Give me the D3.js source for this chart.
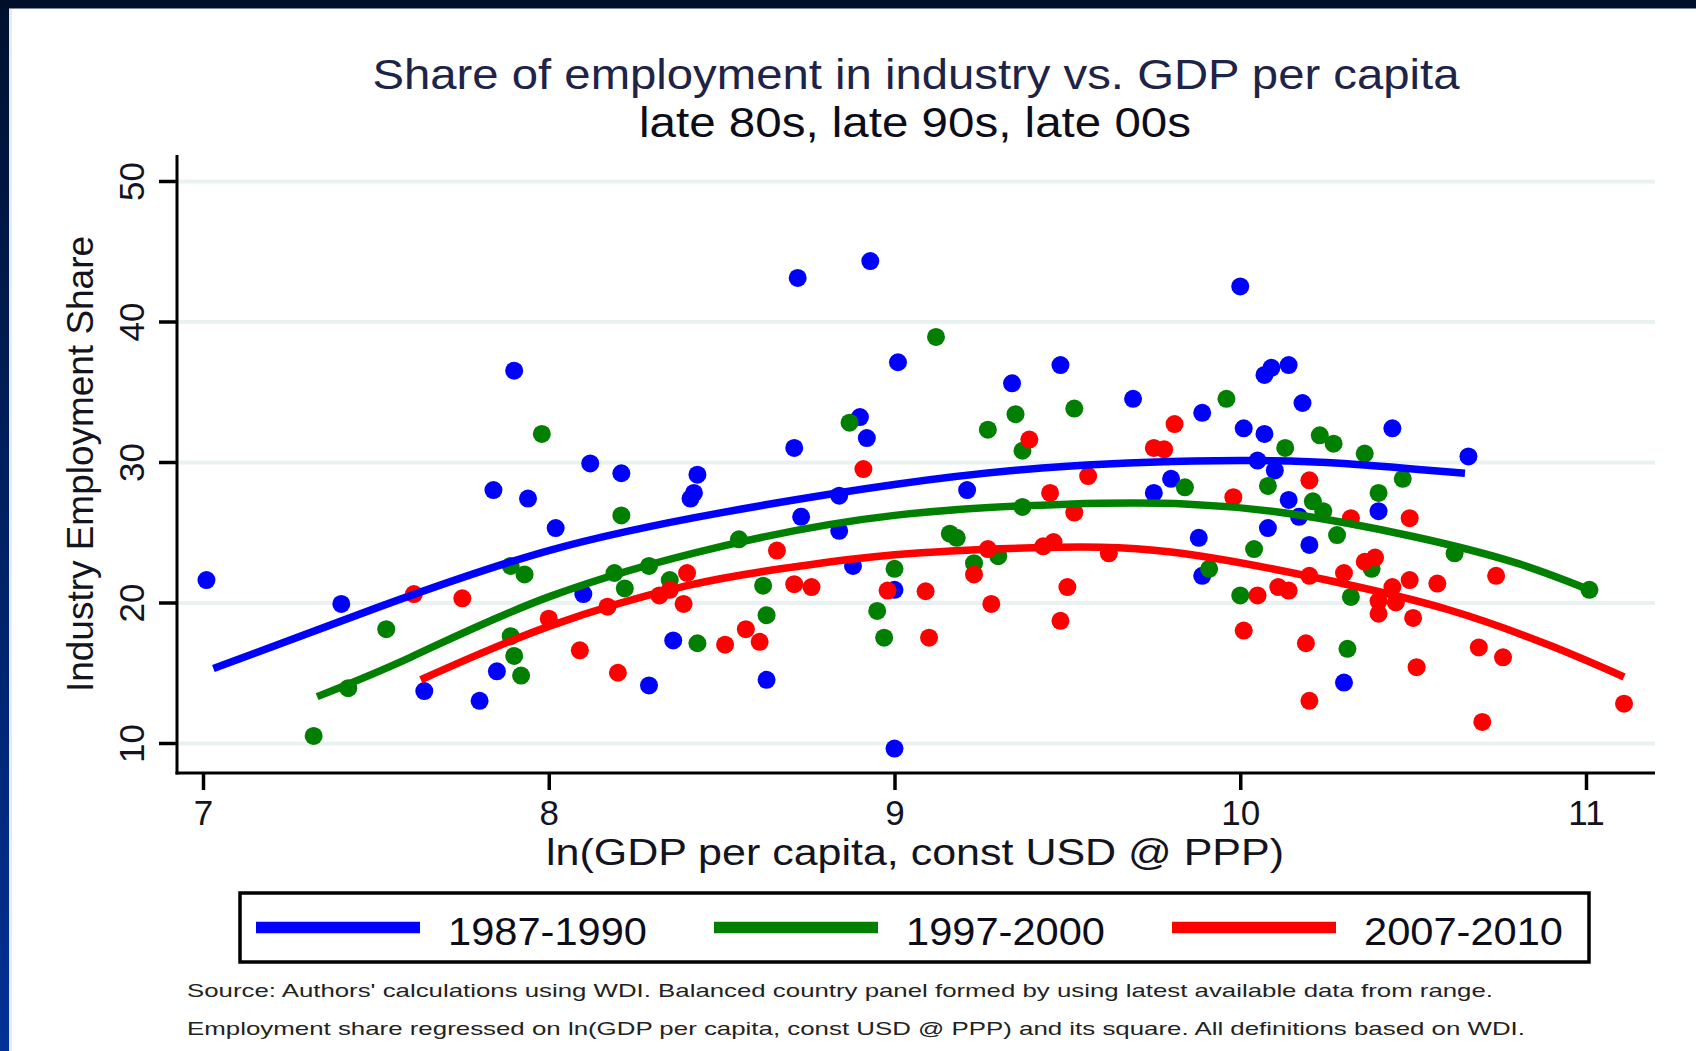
<!DOCTYPE html>
<html>
<head>
<meta charset="utf-8">
<script src="https://cdnjs.cloudflare.com/ajax/libs/d3/7.8.5/d3.min.js"></script>
<style>
  html, body { margin: 0; padding: 0; background: #fff; }
  svg { display: block; }
  text { font-family: "Liberation Sans", Arial, sans-serif; }
</style>
</head>
<body>
<div id="chart"></div>
<script>
// tick labels and series names
var xTicks = [7, 8, 9, 10, 11];
var yTicks = [10, 20, 30, 40, 50];
var periods = ["1987-1990", "1997-2000", "2007-2010"];
var colors = ["#0000ff", "#007f00", "#ff0000"];

// country points: [ln GDP per capita, industry employment share]
var pts8790 = [
    [7.01, 21.6], [7.40, 19.9], [7.64, 13.7], [7.80, 13.0], [7.85, 15.1], [7.84, 28.0], [7.90, 36.5],
    [7.94, 27.4], [8.02, 25.3], [8.10, 20.6], [8.12, 29.9], [8.21, 29.2], [8.29, 14.1], [8.36, 17.3],
    [8.41, 27.4], [8.42, 27.8], [8.43, 29.1], [8.63, 14.5], [8.71, 31.0], [8.72, 43.1], [8.73, 26.1],
    [8.84, 27.6], [8.84, 25.1], [8.88, 22.6], [8.90, 33.2], [8.92, 31.7], [8.93, 44.3], [9.00, 20.9],
    [9.00, 9.6], [9.01, 37.1], [9.21, 28.0], [9.34, 35.6], [9.48, 36.9], [9.69, 34.5], [9.75, 27.8],
    [9.80, 28.8], [9.88, 24.6], [9.89, 33.5], [9.89, 21.9], [10.00, 42.5], [10.01, 32.4], [10.05, 30.1],
    [10.07, 32.0], [10.07, 36.2], [10.09, 36.7], [10.08, 25.3], [10.10, 29.4], [10.14, 36.9], [10.14, 27.3],
    [10.17, 26.1], [10.18, 34.2], [10.20, 24.1], [10.30, 14.3], [10.40, 26.5], [10.44, 32.4], [10.66, 30.4]
];
var pts9700 = [
    [7.32, 10.5], [7.42, 13.9], [7.53, 18.1], [7.89, 17.6], [7.90, 16.2], [7.92, 14.8], [7.89, 22.6],
    [7.93, 22.0], [7.98, 32.0], [8.19, 22.1], [8.21, 26.2], [8.22, 21.0], [8.29, 22.6], [8.35, 21.6],
    [8.43, 17.1], [8.55, 24.5], [8.62, 21.2], [8.63, 19.1], [8.87, 32.8], [8.95, 19.4], [8.97, 17.5],
    [9.00, 22.4], [9.12, 38.9], [9.16, 24.9], [9.18, 24.6], [9.23, 22.8], [9.27, 32.3], [9.30, 23.3],
    [9.35, 33.4], [9.37, 30.8], [9.37, 26.8], [9.52, 33.8], [9.84, 28.2], [9.91, 22.4], [9.96, 34.5],
    [10.00, 20.5], [10.04, 23.8], [10.08, 28.3], [10.13, 31.0], [10.21, 27.2], [10.23, 31.9], [10.24, 26.5],
    [10.27, 31.3], [10.28, 24.8], [10.31, 16.7], [10.32, 20.4], [10.36, 30.6], [10.38, 22.4], [10.40, 27.8],
    [10.47, 28.8], [10.62, 23.5], [11.01, 20.9]
];
var pts0710 = [
    [7.61, 20.6], [7.75, 20.3], [8.00, 18.85], [8.09, 16.6], [8.17, 19.7], [8.20, 15.0], [8.32, 20.5],
    [8.35, 20.9], [8.39, 19.9], [8.40, 22.1], [8.51, 17.0], [8.57, 18.1], [8.61, 17.2], [8.66, 23.7],
    [8.71, 21.3], [8.76, 21.1], [8.91, 29.5], [8.98, 20.85], [9.09, 20.8], [9.10, 17.5], [9.23, 22.0],
    [9.27, 23.8], [9.28, 19.9], [9.39, 31.6], [9.43, 24.0], [9.45, 27.8], [9.46, 24.3], [9.48, 18.7],
    [9.50, 21.1], [9.52, 26.4], [9.56, 29.0], [9.62, 23.5], [9.75, 31.0], [9.78, 30.9], [9.81, 32.7],
    [9.98, 27.5], [10.01, 18.0], [10.05, 20.5], [10.11, 21.1], [10.14, 20.85], [10.19, 17.1], [10.20, 28.7],
    [10.20, 21.9], [10.20, 13.0], [10.30, 22.1], [10.32, 26.0], [10.36, 22.9], [10.39, 23.2], [10.40, 20.1],
    [10.40, 19.2], [10.44, 21.1], [10.45, 20.0], [10.49, 26.0], [10.49, 21.6], [10.50, 18.9], [10.51, 15.4],
    [10.57, 21.35], [10.69, 16.8], [10.70, 11.5], [10.74, 21.9], [10.76, 16.1], [11.11, 12.8]
];

// fitted curves
var fit8790 = [[7.03, 15.3], [7.5, 19.6], [8.0, 23.7], [8.5, 26.4], [9.0, 28.4], [9.5, 29.7], [10.0, 30.1], [10.3, 29.9], [10.65, 29.2]];
var fit9700 = [[7.33, 13.3], [7.6, 16.1], [8.0, 20.4], [8.5, 24.0], [9.0, 26.2], [9.5, 27.0], [9.85, 27.0], [10.15, 26.3], [10.5, 24.7], [10.8, 22.8], [11.02, 20.8]];
var fit0710 = [[7.63, 14.5], [8.0, 18.3], [8.4, 21.2], [8.7, 22.5], [9.0, 23.4], [9.4, 23.9], [9.8, 23.6], [10.25, 21.6], [10.6, 19.5], [10.9, 16.9], [11.11, 14.7]];

var W = 1696, H = 1051;
var plotLeft = 177, plotRight = 1655, plotTop = 155, plotBottom = 773;

var svg = d3.select("#chart").append("svg")
    .attr("width", W)
    .attr("height", H);

/**
 * window frame: dark top strip, gradient strip on the left
 */
var grad = svg.append("defs").append("linearGradient")
    .attr("id", "edge")
    .attr("x1", 0).attr("y1", 0).attr("x2", 0).attr("y2", 1);
grad.append("stop").attr("offset", "0%").attr("stop-color", "#00112f");
grad.append("stop").attr("offset", "100%").attr("stop-color", "#003196");

svg.append("rect").attr("x", 0).attr("y", 0).attr("width", 9).attr("height", H).attr("fill", "url(#edge)");
svg.append("rect").attr("x", 9).attr("y", 8).attr("width", 3).attr("height", H).attr("fill", "#e4edf2");
svg.append("rect").attr("x", 0).attr("y", 0).attr("width", W).attr("height", 8).attr("fill", "#000f2a");
svg.append("rect").attr("x", 9).attr("y", 8).attr("width", W).attr("height", 1).attr("fill", "#7d8a99");

var x = d3.scaleLinear().domain([7, 11]).range([203, 1586]);
var y = d3.scaleLinear().domain([10, 50]).range([743, 181]);

// grid
var grid = svg.append("g")
    .attr("transform", "translate(" + plotLeft + ",0)")
    .call(d3.axisLeft(y).tickValues(yTicks).tickSize(-(plotRight - plotLeft)).tickFormat(""));
grid.select(".domain").remove();
grid.selectAll("line").attr("stroke", "#e9f1f1").attr("stroke-width", 4);

// y axis
var yAxis = svg.append("g")
    .attr("transform", "translate(" + plotLeft + ",0)")
    .call(d3.axisLeft(y).tickValues(yTicks).tickSize(18).tickSizeOuter(0).tickFormat(d3.format("d")));
yAxis.select(".domain").remove();
yAxis.selectAll(".tick line").attr("stroke", "#000").attr("stroke-width", 3.5);
yAxis.selectAll(".tick text")
    .attr("x", 0)
    .attr("dy", null)
    .attr("transform", "translate(-33,0) rotate(-90)")
    .attr("text-anchor", "middle")
    .attr("fill", "#141420")
    .style("font-size", "35px");

// x axis
var xAxis = svg.append("g")
    .attr("transform", "translate(0," + plotBottom + ")")
    .call(d3.axisBottom(x).tickValues(xTicks).tickSize(17).tickSizeOuter(0).tickFormat(d3.format("d")));
xAxis.select(".domain").remove();
xAxis.selectAll(".tick line").attr("stroke", "#000").attr("stroke-width", 3.5);
xAxis.selectAll(".tick text")
    .attr("y", 52)
    .attr("dy", null)
    .attr("fill", "#141420")
    .style("font-size", "35px");

svg.append("line")
    .attr("x1", plotLeft).attr("x2", plotLeft)
    .attr("y1", plotTop).attr("y2", plotBottom + 1.5)
    .attr("stroke", "#000").attr("stroke-width", 3);
svg.append("line")
    .attr("x1", plotLeft - 1.5).attr("x2", plotRight)
    .attr("y1", plotBottom).attr("y2", plotBottom)
    .attr("stroke", "#000").attr("stroke-width", 3);

// scatter first, fitted lines on top
var series = [pts8790, pts9700, pts0710];
var fits = [fit8790, fit9700, fit0710];

var dots = svg.append("g");
series.forEach(function (pts, i) {
    dots.selectAll(null)
        .data(pts)
        .enter()
        .append("circle")
        .attr("cx", function (d) { return x(d[0]); })
        .attr("cy", function (d) { return y(d[1]); })
        .attr("r", 9)
        .attr("fill", colors[i]);
});

var line = d3.line()
    .x(function (d) { return x(d[0]); })
    .y(function (d) { return y(d[1]); })
    .curve(d3.curveNatural);

fits.forEach(function (f, i) {
    svg.append("path")
        .attr("d", line(f))
        .attr("fill", "none")
        .attr("stroke", colors[i])
        .attr("stroke-width", 7.5);
});

// titles
svg.append("text")
    .attr("x", 916).attr("y", 89)
    .attr("text-anchor", "middle")
    .attr("textLength", 1087).attr("lengthAdjust", "spacingAndGlyphs")
    .attr("fill", "#1e2448")
    .style("font-size", "43px")
    .text("Share of employment in industry vs. GDP per capita");
svg.append("text")
    .attr("x", 915).attr("y", 137)
    .attr("text-anchor", "middle")
    .attr("textLength", 552).attr("lengthAdjust", "spacingAndGlyphs")
    .attr("fill", "#0d0d1a")
    .style("font-size", "43px")
    .text("late 80s, late 90s, late 00s");

svg.append("text")
    .attr("x", 915).attr("y", 865)
    .attr("text-anchor", "middle")
    .attr("textLength", 738).attr("lengthAdjust", "spacingAndGlyphs")
    .attr("fill", "#141420")
    .style("font-size", "36px")
    .text("ln(GDP per capita, const USD @ PPP)");
svg.append("text")
    .attr("transform", "translate(93,464) rotate(-90)")
    .attr("text-anchor", "middle")
    .attr("textLength", 456).attr("lengthAdjust", "spacingAndGlyphs")
    .attr("fill", "#141420")
    .style("font-size", "37px")
    .text("Industry Employment Share");

// legend
var legend = svg.append("g");
legend.append("rect")
    .attr("x", 240).attr("y", 893)
    .attr("width", 1349).attr("height", 69)
    .attr("fill", "#fff")
    .attr("stroke", "#000").attr("stroke-width", 3.5);

var legendX = [256, 714, 1172];
periods.forEach(function (p, i) {
    legend.append("line")
        .attr("x1", legendX[i]).attr("x2", legendX[i] + 164)
        .attr("y1", 927.5).attr("y2", 927.5)
        .attr("stroke", colors[i]).attr("stroke-width", 11.5);
    legend.append("text")
        .attr("x", legendX[i] + 192).attr("y", 945)
        .attr("textLength", 199).attr("lengthAdjust", "spacingAndGlyphs")
        .attr("fill", "#0d0d1a")
        .style("font-size", "38px")
        .text(p);
});

// source note
var notes = [
    "Source: Authors' calculations using WDI. Balanced country panel formed by using latest available data from range.",
    "Employment share regressed on ln(GDP per capita, const USD @ PPP) and its square. All definitions based on WDI."
];
var noteLen = [1306, 1338];
notes.forEach(function (n, i) {
    svg.append("text")
        .attr("x", 187).attr("y", 997 + i * 38)
        .attr("textLength", noteLen[i]).attr("lengthAdjust", "spacingAndGlyphs")
        .attr("fill", "#222")
        .style("font-size", "19px")
        .text(n);
});
</script>
</body>
</html>
